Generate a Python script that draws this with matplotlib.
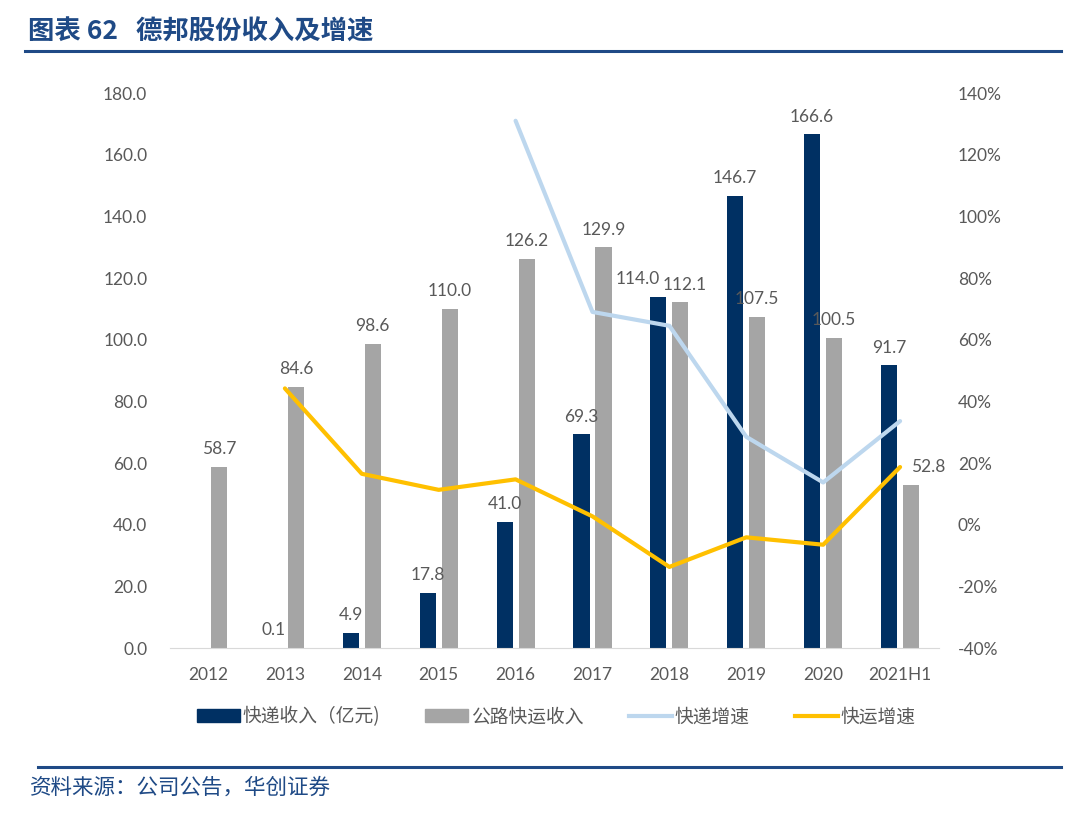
import matplotlib
matplotlib.use("Agg")
import matplotlib.pyplot as plt
import numpy as np
from matplotlib.lines import Line2D
from matplotlib.patches import Patch
from matplotlib.ticker import FuncFormatter

plt.rcParams['font.family'] = ['Noto Sans CJK SC', 'DejaVu Sans']

# data
years = ["2012", "2013", "2014", "2015", "2016", "2017", "2018", "2019", "2020", "2021H1"]
express_rev = [0.0, 0.1, 4.9, 17.8, 41.0, 69.3, 114.0, 146.7, 166.6, 91.7]
ltl_rev = [58.7, 84.6, 98.6, 110.0, 126.2, 129.9, 112.1, 107.5, 100.5, 52.8]
express_growth = [np.nan, np.nan, np.nan, np.nan, 1.31, 0.69, 0.645, 0.285, 0.137, 0.336]
ltl_growth = [np.nan, 0.442, 0.165, 0.113, 0.147, 0.027, -0.137, -0.041, -0.065, 0.187]

NAVY = "#003063"
GRAY = "#A5A5A5"
LIGHTBLUE = "#BDD7EE"
YELLOW = "#FFC000"
TEXT = "#595959"
HEAD = "#1F4A86"

fig = plt.figure( figsize=(10.8, 8.21), dpi=100 )
ax = fig.add_axes( [0.157, 0.2107, 0.712, 0.676] )
ax2 = ax.twinx()

x = np.arange( len( years ) )
w = 0.21
off = 0.143
ax.bar( x - off, express_rev, w, color=NAVY, zorder=2 )
ax.bar( x + off, ltl_rev, w, color=GRAY, zorder=2 )

# a couple of labels are nudged sideways, as in the source chart
nudge_express = {"2018": -15}
nudge_ltl = {"2018": 3, "2021H1": 12}
for i, v in enumerate( express_rev ):
    if i == 0:
        continue
    ax.annotate( "%.1f" % v, (x[i] - off, v), xytext=(nudge_express.get( years[i], 0 ), 7),
        textcoords="offset points", ha="center", va="bottom", fontsize=12.5, color=TEXT, family="Lato" )
for i, v in enumerate( ltl_rev ):
    ax.annotate( "%.1f" % v, (x[i] + off, v), xytext=(nudge_ltl.get( years[i], 0 ), 7),
        textcoords="offset points", ha="center", va="bottom", fontsize=12.5, color=TEXT, family="Lato" )

ax2.plot( x, express_growth, color=LIGHTBLUE, lw=3, zorder=3, solid_capstyle="round" )
ax2.plot( x, ltl_growth, color=YELLOW, lw=3, zorder=3, solid_capstyle="round" )

ax.set_xlim( -0.5, len( years ) - 0.5 )
ax.set_ylim( 0, 180 )
ax.set_yticks( np.arange( 0, 181, 20 ) )
ax.yaxis.set_major_formatter( FuncFormatter( lambda v, p: "%.1f" % v ) )
ax2.set_ylim( -0.4, 1.4 )
ax2.set_yticks( np.arange( -0.4, 1.41, 0.2 ) )
ax2.yaxis.set_major_formatter( FuncFormatter( lambda v, p: "%d%%" % round( v * 100 ) ) )
ax.set_xticks( x )
ax.set_xticklabels( years )

for a in (ax, ax2):
    for s in a.spines.values():
        s.set_visible( False )
    a.tick_params( length=0, labelsize=12.5, labelcolor=TEXT )
    for lab in a.get_xticklabels() + a.get_yticklabels():
        lab.set_family( "Lato" )
ax.spines['bottom'].set_visible( True )
ax.spines['bottom'].set_color( "#D9D9D9" )
ax.tick_params( axis="y", pad=16 )
ax.tick_params( axis="x", pad=14 )
ax2.tick_params( axis="y", pad=14 )
ax.set_zorder( ax2.get_zorder() - 1 )
ax2.patch.set_visible( False )

handles = [Patch( color=NAVY ), Patch( color=GRAY ),
    Line2D( [], [], color=LIGHTBLUE, lw=3 ), Line2D( [], [], color=YELLOW, lw=3 )]
labels = ["快递收入（亿元)", "公路快运收入", "快递增速", "快运增速"]
fig.legend( handles, labels, loc="center", bbox_to_anchor=(0.515, 0.127), ncol=4,
    frameon=False, fontsize=13.5, labelcolor=TEXT, columnspacing=2.4, handlelength=2.3,
    handletextpad=0.15 )

# header and footer
fig.text( 0.026, 0.961, "图表 62   德邦股份收入及增速", fontsize=19, fontweight="bold",
    color=HEAD, va="center", ha="left" )
fig.add_artist( Line2D( [0.023, 0.982], [0.938, 0.938], color=HEAD, lw=2.2 ) )
fig.add_artist( Line2D( [0.035, 0.982], [0.066, 0.066], color=HEAD, lw=2.2 ) )
fig.text( 0.028, 0.040, "资料来源：公司公告，华创证券", fontsize=15.5, style="italic",
    color=HEAD, va="center", ha="left" )

fig.savefig( "out.png", dpi=100 )
